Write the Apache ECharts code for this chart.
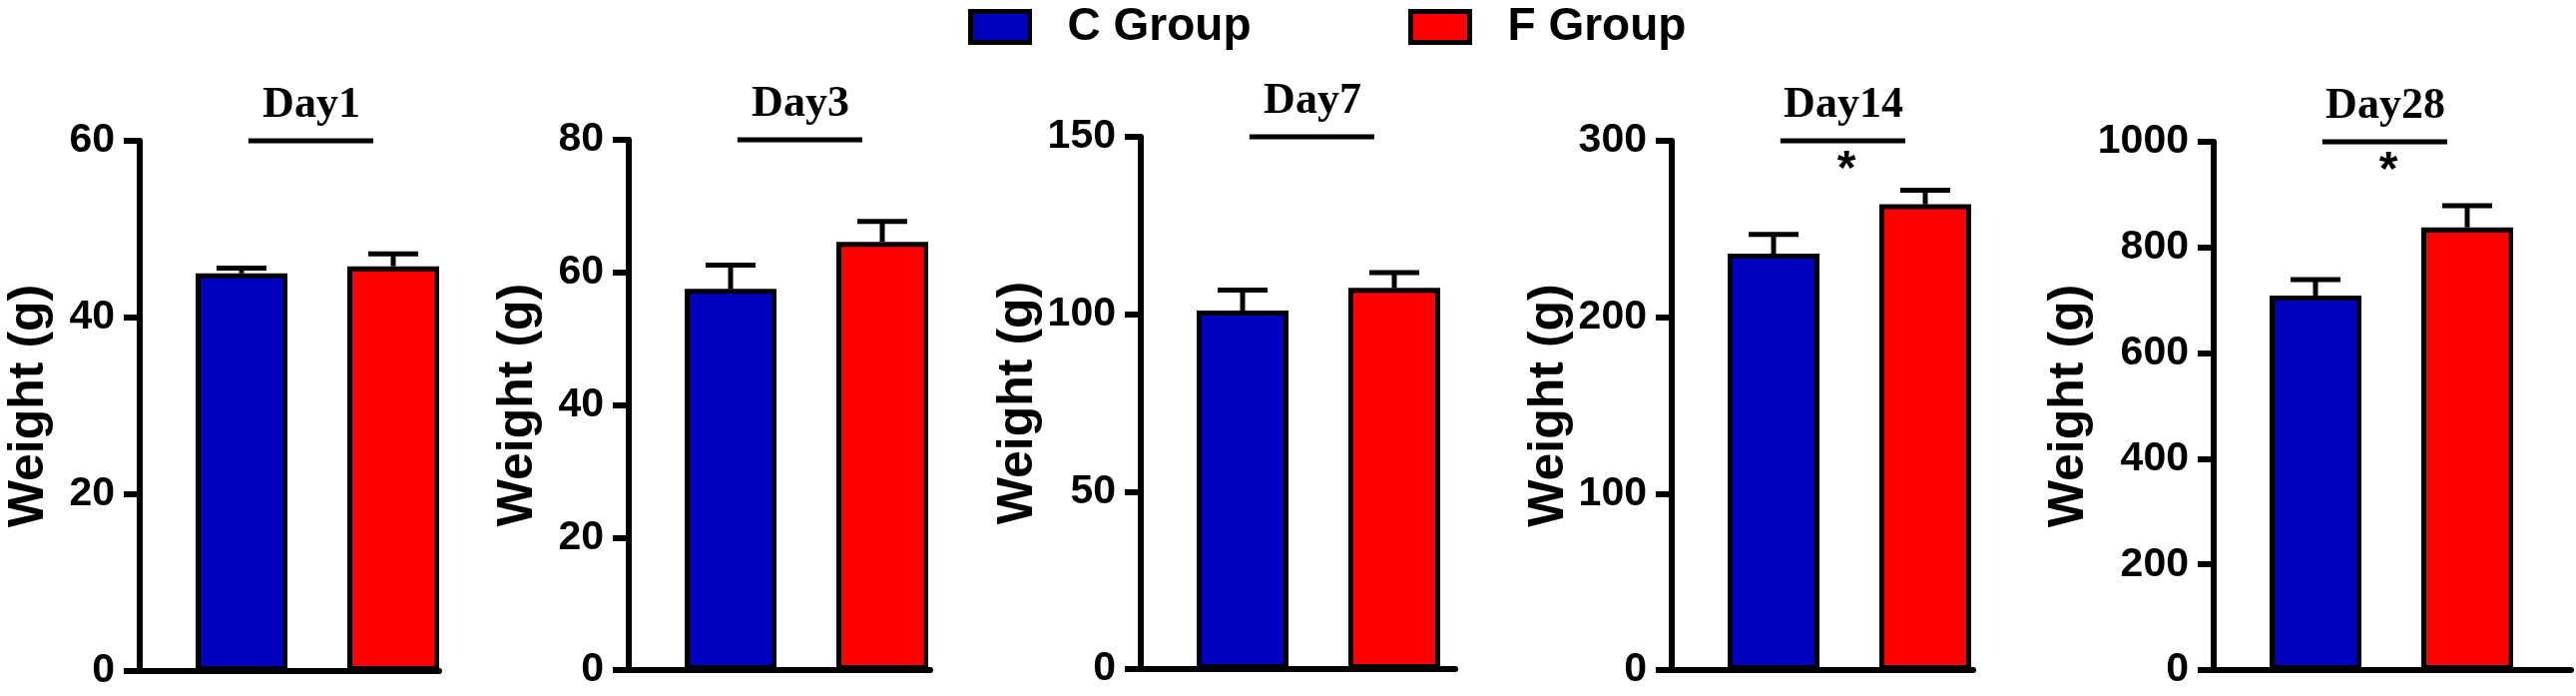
<!DOCTYPE html>
<html>
<head>
<meta charset="utf-8">
<script src="https://cdn.jsdelivr.net/npm/echarts@6/dist/echarts.min.js"></script>
<style>
  html, body { margin: 0; padding: 0; background: #fff; }
  #main { width: 2581px; height: 697px; }
</style>
</head>
<body>
<div id="main"></div>
<script>
// values (mean and SEM, grams)
var days = ['Day1', 'Day3', 'Day7', 'Day14', 'Day28'];
var groups = ['C Group', 'F Group'];
var cMean = [45.0, 57.5, 101, 236, 709];
var cSem = [0.6, 3.6, 5.8, 11, 30];
var fMean = [45.8, 64.6, 107.4, 264, 838];
var fSem = [1.4, 3.1, 4.3, 8, 41];
var yMax = [60, 80, 150, 300, 1000];
var yStep = [20, 20, 50, 100, 200];
var sigMark = ['', '', '', '*', '*'];

// layout of the five panels (px)
var axisX = [140, 630, 1143, 1675, 2218];
var axisLen = [300, 302, 315, 302, 358];
var plotTop = [141, 140, 137, 141, 142];
var plotBottom = [672, 671, 670, 671, 671];
var unit = 152;              // px between the two bars
var xMin = 1 - 102 / unit;   // first bar centre sits 102px right of the y axis
var sigFrom = 1.045, sigTo = 1.868;
var legendLeft = [970, 1411];

var sans = '"Liberation Sans", Arial, sans-serif';
var serif = '"Liberation Serif", "Times New Roman", serif';
var blue = '#0000C0';
var red = '#FF0000';

var myChart = echarts.init(document.getElementById('main'), null, {
  width: 2581,
  height: 697,
  renderer: 'canvas'
});

function errorItem(params, api) {
  var x = api.value(0);
  var mean = api.value(1);
  var top = mean + api.value(2);
  var base = api.coord([x, mean]);
  var tip = api.coord([x, top]);
  return {
    type: 'group',
    children: [
      {
        type: 'line',
        shape: { x1: base[0], y1: base[1], x2: tip[0], y2: tip[1] },
        style: { stroke: '#000', lineWidth: 5 }
      },
      {
        type: 'line',
        shape: { x1: tip[0] - 25, y1: tip[1], x2: tip[0] + 25, y2: tip[1] },
        style: { stroke: '#000', lineWidth: 5 }
      }
    ]
  };
}

function sigItem(i) {
  return function (params, api) {
    var a = api.coord([api.value(0), api.value(2)]);
    var b = api.coord([api.value(1), api.value(2)]);
    var children = [{
      type: 'line',
      shape: { x1: a[0], y1: a[1], x2: b[0], y2: b[1] },
      style: { stroke: '#000', lineWidth: 5 }
    }];
    if (sigMark[i]) {
      children.push({
        type: 'text',
        style: {
          text: sigMark[i],
          x: axisX[i] + 175,
          y: a[1] + 30,
          align: 'center',
          verticalAlign: 'middle',
          font: 'bold 48px ' + sans,
          fill: '#000'
        }
      });
    }
    return { type: 'group', children: children };
  };
}

var grids = [], xAxes = [], yAxes = [], titles = [], series = [];

days.forEach(function (d, i) {
  grids.push({
    left: axisX[i],
    top: plotTop[i],
    width: axisLen[i],
    height: plotBottom[i] - plotTop[i]
  });
  xAxes.push({
    gridIndex: i,
    type: 'value',
    min: xMin,
    max: xMin + axisLen[i] / unit,
    axisLine: { show: true, onZero: false, lineStyle: { color: '#000', width: 6 } },
    axisTick: { show: false },
    axisLabel: { show: false },
    splitLine: { show: false }
  });
  yAxes.push({
    gridIndex: i,
    type: 'value',
    min: 0,
    max: yMax[i],
    interval: yStep[i],
    name: 'Weight (g)',
    nameLocation: 'middle',
    nameRotate: 90,
    nameGap: 86,
    nameTextStyle: { fontFamily: sans, fontWeight: 'bold', fontSize: 50, color: '#000' },
    axisLine: { show: true, lineStyle: { color: '#000', width: 6 } },
    axisTick: { show: true, length: 16, lineStyle: { color: '#000', width: 6 } },
    axisLabel: {
      fontFamily: sans, fontWeight: 'bold', fontSize: 41, color: '#000', margin: 25,
      formatter: function (v) { return String(v); }
    },
    splitLine: { show: false }
  });
  titles.push({
    text: d,
    left: axisX[i] + 172,
    top: plotTop[i] - 57,
    textAlign: 'center',
    padding: 0,
    textStyle: { fontFamily: serif, fontWeight: 'bold', fontSize: 44, color: '#000' }
  });

  series.push({
    name: groups[0],
    type: 'bar',
    xAxisIndex: i,
    yAxisIndex: i,
    barWidth: 92,
    itemStyle: { color: blue, borderColor: '#000', borderWidth: 5 },
    data: [[1, cMean[i]]]
  });
  series.push({
    name: groups[1],
    type: 'bar',
    xAxisIndex: i,
    yAxisIndex: i,
    barWidth: 92,
    barGap: '-100%',
    itemStyle: { color: red, borderColor: '#000', borderWidth: 5 },
    data: [[2, fMean[i]]]
  });
  series.push({
    type: 'custom',
    xAxisIndex: i,
    yAxisIndex: i,
    z: 3,
    renderItem: errorItem,
    encode: { x: 0, y: 1 },
    data: [[1, cMean[i], cSem[i]], [2, fMean[i], fSem[i]]]
  });
  series.push({
    type: 'custom',
    xAxisIndex: i,
    yAxisIndex: i,
    z: 3,
    renderItem: sigItem(i),
    encode: { x: [0, 1], y: 2 },
    data: [[sigFrom, sigTo, yMax[i]]]
  });
});

var legends = groups.map(function (g, k) {
  return {
    data: [g],
    left: legendLeft[k],
    top: 4,
    padding: 0,
    icon: 'rect',
    itemWidth: 59,
    itemHeight: 31,
    itemStyle: { borderColor: '#000', borderWidth: 5 },
    textStyle: {
      fontFamily: sans, fontWeight: 'bold', fontSize: 46, color: '#000',
      padding: [0, 0, 0, 33]
    }
  };
});

var option = {
  animation: false,
  backgroundColor: '#fff',
  title: titles,
  legend: legends,
  grid: grids,
  xAxis: xAxes,
  yAxis: yAxes,
  series: series
};

myChart.setOption(option);
</script>
</body>
</html>
